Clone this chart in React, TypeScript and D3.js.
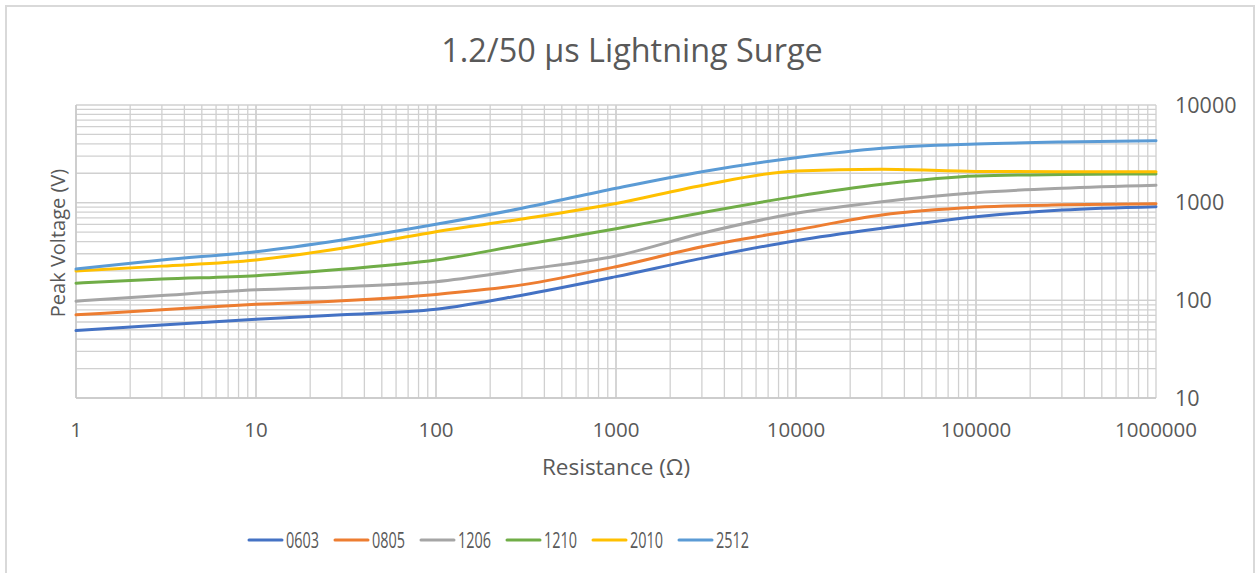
import React from "react";
import * as d3 from "d3";

const resistance = [1, 3, 10, 30, 100, 300, 1000, 3000, 10000, 30000, 100000, 300000, 1000000];
const seriesNames = ["0603", "0805", "1206", "1210", "2010", "2512"];
const v0603 = [49, 56, 64, 71, 81, 113, 175, 269, 408, 546, 718, 841, 910];
const v0805 = [71, 80, 91, 99, 115, 144, 221, 354, 525, 748, 896, 950, 975];
const v1206 = [98, 112, 128, 138, 155, 205, 285, 486, 778, 1023, 1265, 1403, 1506];
const v1210 = [150, 165, 179, 208, 259, 369, 540, 790, 1160, 1542, 1875, 1940, 1965];
const v2010 = [200, 224, 259, 341, 505, 680, 980, 1500, 2110, 2196, 2090, 2075, 2075];
const v2512 = [209, 259, 315, 415, 600, 876, 1403, 2075, 2886, 3604, 3985, 4180, 4307];
const seriesValues = [v0603, v0805, v1206, v1210, v2010, v2512];
const colors = ["#4472C4", "#ED7D31", "#A5A5A5", "#70AD47", "#FFC000", "#5B9BD5"];
const xTicks = [1, 10, 100, 1000, 10000, 100000, 1000000];
const yTicks = [10, 100, 1000, 10000];

const FONT = "'Open Sans', sans-serif";

export default function App() {
  const W = 1255, H = 573;
  const x = d3.scaleLog().domain([1, 1e6]).range([76, 1156]);
  const y = d3.scaleLog().domain([10, 10000]).range([398, 105]);

  const xGrid: number[] = [];
  for (let e = 0; e < 6; e++) for (let m = 1; m <= 10; m++) xGrid.push(m * Math.pow(10, e));
  const yGrid: number[] = [];
  for (let e = 1; e < 4; e++) for (let m = 1; m <= 10; m++) yGrid.push(m * Math.pow(10, e));

  const line = d3
    .line<[number, number]>()
    .x((d) => x(d[0]))
    .y((d) => y(d[1]))
    .curve(d3.curveMonotoneX);

  return (
    <svg width={W} height={H} style={{ position: "absolute", left: 0, top: 0 }}>
      <rect x={0} y={0} width={W} height={H} fill="#fff" />
      <rect x={6} y={6} width={1248} height={600} fill="#fff" stroke="#d9d9d9" strokeWidth={2} />
      <text x={632} y={62} textAnchor="middle" fontFamily={FONT} fontSize={32.4} fill="#595959">
        1.2/50 µs Lightning Surge
      </text>
      <g stroke="#d0d0d0" strokeWidth={1.3}>
        {xGrid.map((v, i) => (
          <line key={"x" + i} x1={x(v)} x2={x(v)} y1={105} y2={398} />
        ))}
        {yGrid.map((v, i) => (
          <line key={"y" + i} x1={76} x2={1156} y1={y(v)} y2={y(v)} />
        ))}
      </g>
      <line x1={76} x2={76} y1={105} y2={398} stroke="#c8c8c8" strokeWidth={1.5} />
      <line x1={76} x2={1156} y1={398} y2={398} stroke="#c8c8c8" strokeWidth={1.5} />
      {seriesValues.map((vals, i) => (
        <path
          key={seriesNames[i]}
          d={line(resistance.map((r, j) => [r, vals[j]] as [number, number])) || ""}
          fill="none"
          stroke={colors[i]}
          strokeWidth={3}
          strokeLinecap="round"
        />
      ))}
      {xTicks.map((v) => (
        <text key={"xt" + v} x={x(v)} y={437} textAnchor="middle" fontFamily={FONT} fontSize={20.5} fill="#595959">
          {String(v)}
        </text>
      ))}
      {yTicks.map((v) => (
        <text key={"yt" + v} x={1175} y={y(v) + 7.5} textAnchor="start" fontFamily={FONT} fontSize={21.5} fill="#595959">
          {String(v)}
        </text>
      ))}
      <text x={616} y={475} textAnchor="middle" fontFamily={FONT} fontSize={22.5} fill="#595959">
        Resistance (Ω)
      </text>
      <text
        transform={`translate(65,${243}) rotate(-90)`}
        textAnchor="middle"
        fontFamily={FONT}
        fontSize={20}
        fill="#595959"
      >
        Peak Voltage (V)
      </text>
      {seriesNames.map((n, i) => {
        const lx = 249 + i * 86;
        return (
          <g key={"lg" + n}>
            <line x1={lx} x2={lx + 33} y1={540} y2={540} stroke={colors[i]} strokeWidth={3} strokeLinecap="round" />
            <text
              x={lx + 37}
              y={548}
              fontFamily={FONT}
              fontSize={22}
              fill="#595959"
              textLength={33}
              lengthAdjust="spacingAndGlyphs"
            >
              {n}
            </text>
          </g>
        );
      })}
    </svg>
  );
}
